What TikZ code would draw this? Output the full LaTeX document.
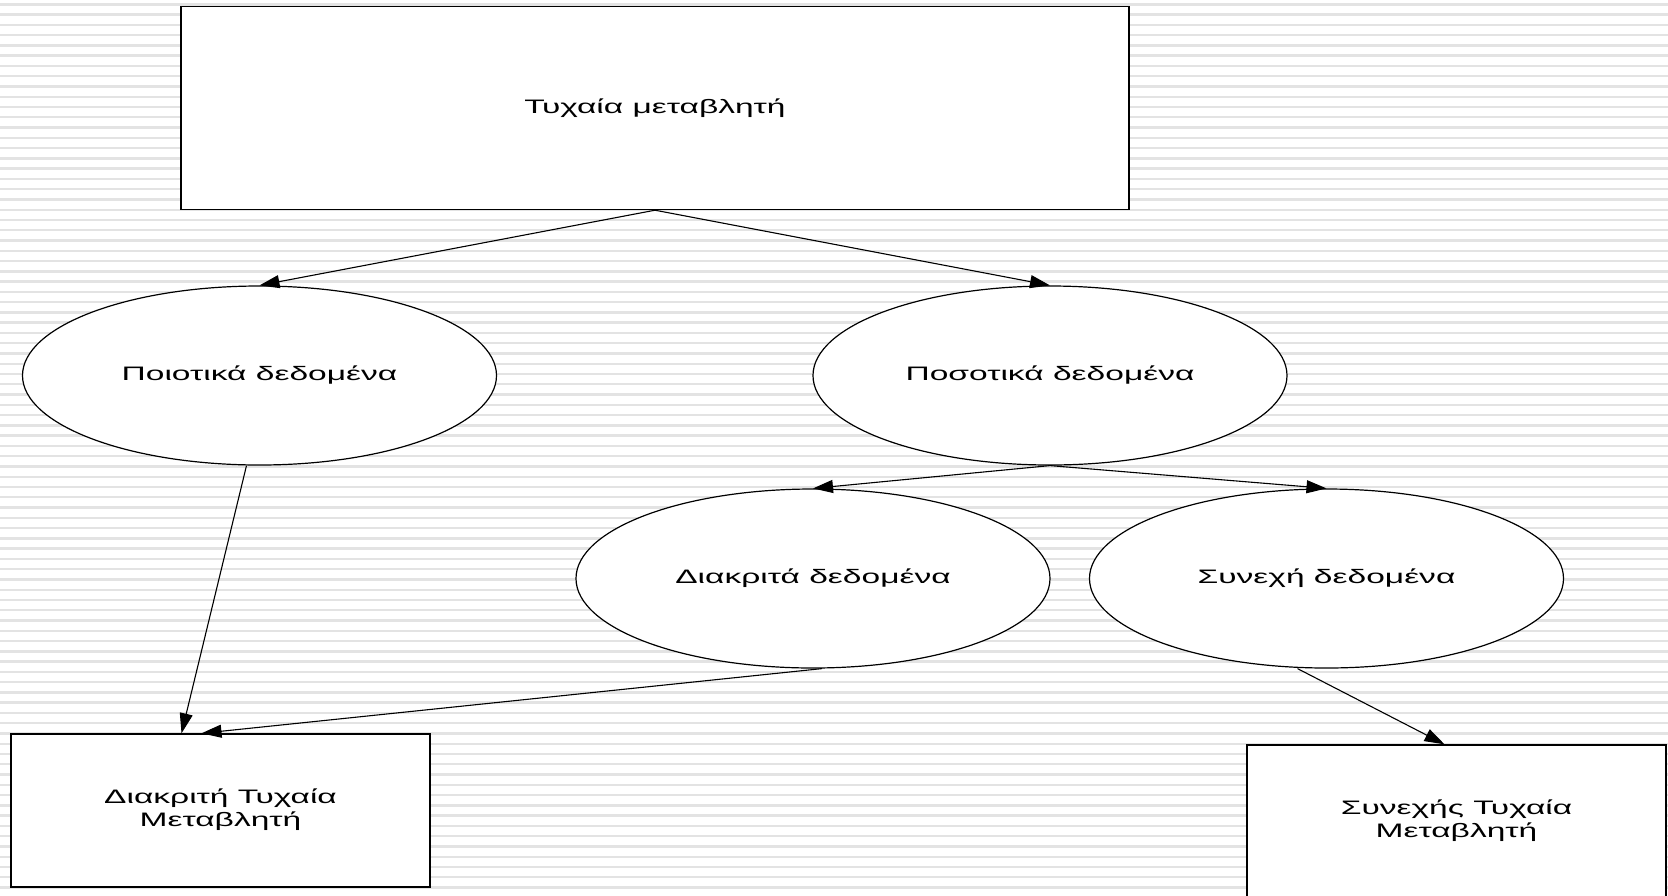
\documentclass[tikz,border=0pt]{standalone}
\usepackage{fontspec}
\setmainfont{Liberation Sans}
\usepackage{graphicx}
\usetikzlibrary{shapes.geometric,arrows.meta}
\definecolor{stripe}{gray}{0.89}
\newcommand{\wide}[1]{\scalebox{1.72}[1]{#1}}
\newcommand{\twolines}[2]{\wide{\begin{tabular}{@{}c@{}}#1\\#2\end{tabular}}}
\begin{document}
\begin{tikzpicture}[x=1pt,y=-1pt,
		every node/.style={font=\fontsize{19.5}{23.4}\selectfont},
		box/.style={draw,fill=white,line width=1.4pt,inner sep=0pt},
		oval/.style={ellipse,draw,fill=white,line width=1.2pt,inner sep=0pt,minimum width=474pt,minimum height=179pt},
		link/.style={line width=1.1pt,-{Triangle[length=20pt,width=13pt]}}]
			\useasboundingbox (0,0) rectangle (1668,895);
			\clip (0,0) rectangle (1668,895);
			\fill[white] (0,0) rectangle (1668,895);
			\foreach \row in {0, ..., 87} {
				\draw[stripe,line width=2.4pt] (0,{4.3+10.27*\row}) -- (1668,{4.3+10.27*\row});
			};
			% boxes
			\node[box,minimum width=948pt,minimum height=203pt] (rv) at (655,108) {\wide{Τυχαία μεταβλητή}};
			\node[box,minimum width=419pt,minimum height=153pt] (drv) at (220.5,810.5) {\twolines{Διακριτή Τυχαία}{Μεταβλητή}};
			\node[box,minimum width=419pt,minimum height=153pt] (crv) at (1456.5,821.5) {\twolines{Συνεχής Τυχαία}{Μεταβλητή}};
			% ellipses
			\node[oval] (qual) at (259.5,375.5) {\wide{Ποιοτικά δεδομένα}};
			\node[oval] (quant) at (1050,375.5) {\wide{Ποσοτικά δεδομένα}};
			\node[oval] (disc) at (813,578.5) {\wide{Διακριτά δεδομένα}};
			\node[oval] (cont) at (1326.5,578.5) {\wide{Συνεχή δεδομένα}};
			% arrows
			\draw[link] (rv.south) -- (qual.north);
			\draw[link] (rv.south) -- (quant.north);
			\draw[link] (quant.south) -- (disc.north);
			\draw[link] (quant.south) -- (cont.north);
			\draw[link] ([xshift=-13pt]qual.south) -- ([xshift=-39pt]drv.north);
			\draw[link] ([xshift=9pt]disc.south) -- ([xshift=-19pt]drv.north);
			\draw[link] ([xshift=-29pt]cont.south) -- ([xshift=-12pt]crv.north);
		\end{tikzpicture}
\end{document}
